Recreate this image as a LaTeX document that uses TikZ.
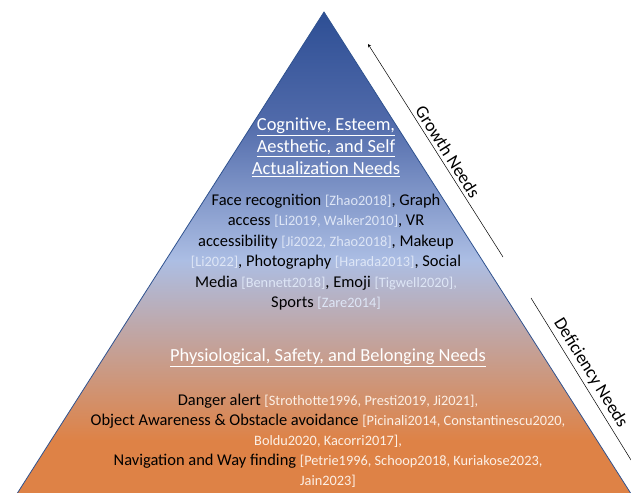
\documentclass[tikz,border=0pt]{standalone}
\usepackage{fontspec}
\setmainfont{Carlito}
\usetikzlibrary{positioning, arrows}

\definecolor{pyrTop}{RGB}{45,78,148}
\definecolor{pyrUpper}{RGB}{80,106,170}
\definecolor{pyrMid}{RGB}{172,190,228}
\definecolor{pyrBase}{RGB}{222,130,70}
\definecolor{pyrEdge}{RGB}{47,82,143}
\definecolor{citeBlue}{RGB}{222,230,246}
\definecolor{citeOrange}{RGB}{252,240,230}

\newcommand{\citeUp}[1]{{\fontsize{14.4}{20.6}\selectfont\color{citeBlue}#1}}
\newcommand{\citeLow}[1]{{\fontsize{14.4}{20}\selectfont\color{citeOrange}#1}}

\begin{document}
\begin{tikzpicture}[x=1bp, y=-1bp,
	title/.style={text=white, align=center, font=\fontsize{18.5}{22}\selectfont},
	body/.style={text=black, align=center, font=\fontsize{16.5}{20.6}\selectfont},
	needs/.style={font=\fontsize{18}{20}\selectfont, sloped, above}]
	
	\useasboundingbox (0,0) rectangle (631,493);
	
	%Pyramid
	\coordinate (apex) at (324,12);
	\coordinate (baseL) at (13,500);
	\coordinate (baseR) at (635,500);
	\begin{scope}
		\clip (apex) -- (baseR) -- (baseL) -- cycle;
		\shade[top color=pyrTop, bottom color=pyrUpper] (0,10) rectangle (631,121);
		\shade[top color=pyrUpper, bottom color=pyrMid] (0,120) rectangle (631,261);
		\shade[top color=pyrMid, bottom color=pyrBase] (0,260) rectangle (631,441);
		\fill[pyrBase] (0,440) rectangle (631,501);
	\end{scope}
	\draw[pyrEdge, line width=0.8] (apex) -- (baseR) -- (baseL) -- cycle;
	
	%Upper level
	\node[title] (growthTitle) at (326,147) {\underline{Cognitive, Esteem,}\\
		\underline{Aesthetic, and Self}\\ \underline{Actualization Needs}};
	\node[body] (growthList) at (326,252) {Face recognition \citeUp{[Zhao2018]}, Graph\\
		access \citeUp{[Li2019, Walker2010]}, VR\\
		accessibility \citeUp{[Ji2022, Zhao2018]}, Makeup\\
		\citeUp{[Li2022]}, Photography \citeUp{[Harada2013]}, Social\\
		Media \citeUp{[Bennett2018]}, Emoji \citeUp{[Tigwell2020],}\\
		Sports \citeUp{[Zare2014]}};
	
	%Lower level
	\node[title] (deficiencyTitle) at (328,358) {\underline{Physiological, Safety, and Belonging Needs}};
	\node[body, font=\fontsize{16.5}{20}\selectfont] (deficiencyList) at (328,441) {Danger alert \citeLow{[Strothotte1996, Presti2019, Ji2021],}\\
		Object Awareness \& Obstacle avoidance \citeLow{[Picinali2014, Constantinescu2020,}\\
		\citeLow{Boldu2020, Kacorri2017],}\\
		Navigation and Way finding \citeLow{[Petrie1996, Schoop2018, Kuriakose2023,}\\
		\citeLow{Jain2023]}};
	
	%Side arrows
	\coordinate (growthTop) at (368,44);
	\coordinate (growthBottom) at (503,257);
	\draw[stealth-, line width=0.5] (growthTop) -- (growthBottom)
		node[needs, pos=0.53] (growthLabel) {Growth Needs};
	
	\coordinate (deficiencyTop) at (531,298);
	\coordinate (deficiencyBottom) at (631,460);
	\draw[line width=0.5] (deficiencyTop) -- (deficiencyBottom)
		node[needs, pos=0.5] (deficiencyLabel) {Deficiency Needs};
	
\end{tikzpicture}
\end{document}
